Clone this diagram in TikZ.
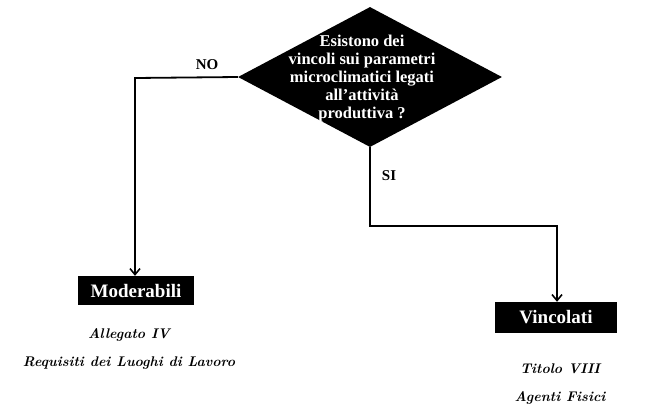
\documentclass[tikz,border=0pt]{standalone}
\usepackage{fontspec}
\setmainfont{Liberation Serif}
\usetikzlibrary{shapes.geometric,arrows.meta}
\newfontfamily\handfont{Latin Modern Roman}
\begin{document}
\begin{tikzpicture}[x=1pt,y=-1pt,
  decision/.style={diamond,fill=black,inner sep=0pt,minimum width=264pt,minimum height=140pt},
  qtext/.style={text=white,font=\bfseries\fontsize{16.5}{18}\selectfont,align=center},
  outcome/.style={fill=black,text=white,font=\bfseries\fontsize{19}{20}\selectfont,inner sep=0pt},
  answer/.style={font=\bfseries\fontsize{15}{16}\selectfont},
  note/.style={font=\handfont\bfseries\itshape\fontsize{14}{28}\selectfont,align=center},
  flow/.style={line width=1.8pt,-{Straight Barb[length=6pt,width=10pt,line width=1.6pt]}}]
\useasboundingbox (0,0) rectangle (662,418);
\node[decision] (q) at (370,77) {};
\node[qtext] (qt) at (362,79) {Esistono dei\\vincoli sui parametri\\microclimatici legati\\all'attività\\produttiva ?};
\node[outcome,minimum width=116pt,minimum height=29pt] (mod) at (136,290.5) {Moderabili};
\node[outcome,minimum width=122pt,minimum height=31pt] (vin) at (556,317.5) {Vincolati};
\coordinate (no) at (135,78);
\coordinate (si1) at (370,226);
\coordinate (si2) at (557,226);
\draw[flow] (q.west) -- (no) -- (no |- mod.north);
\draw[flow] (q.south) -- (si1) -- (si2) -- (si2 |- vin.north);
\node[answer] (nolab) at (207,65) {NO};
\node[answer] (silab) at (389,176) {SI};
\node[note] (modnote) at (129,349) {Allegato IV\\Requisiti dei Luoghi di Lavoro};
\node[note] (vinnote) at (560,384) {Titolo VIII\\Agenti Fisici};
\end{tikzpicture}
\end{document}
